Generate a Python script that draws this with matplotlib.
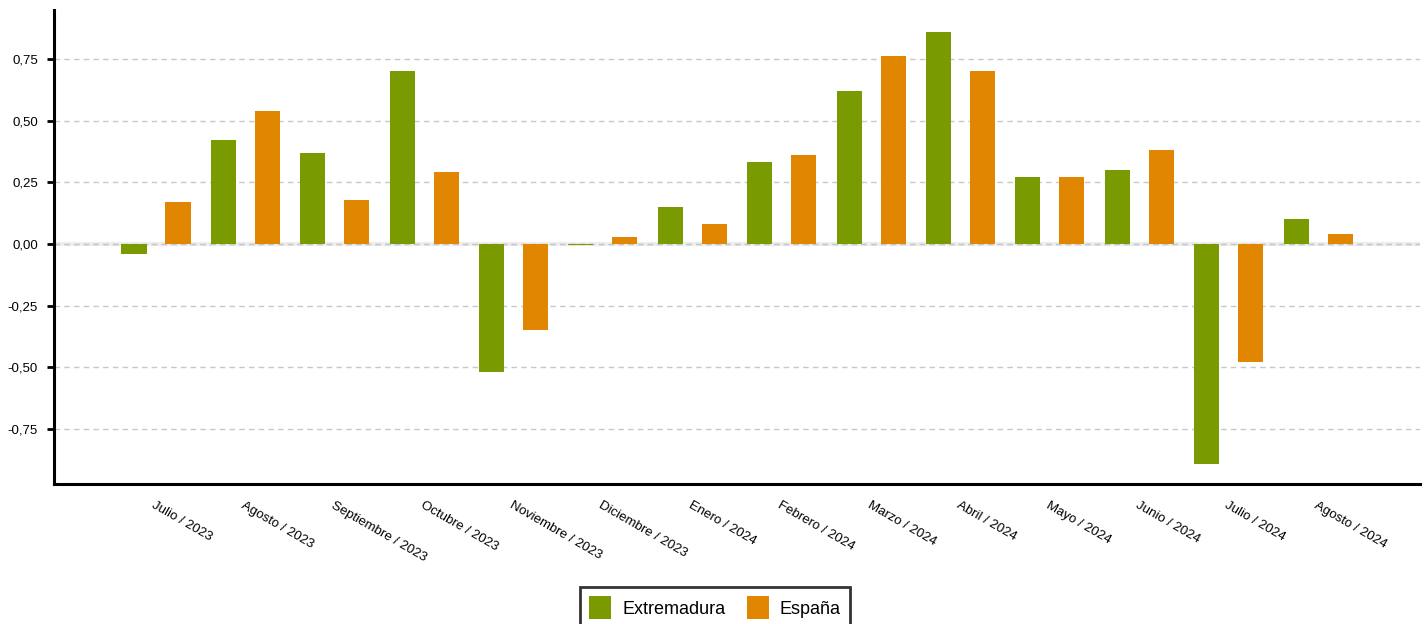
import matplotlib
matplotlib.use("Agg")
import matplotlib.pyplot as plt
import numpy as np

plt.rcParams['font.family'] = ['Liberation Sans', 'DejaVu Sans']

months = ["Julio / 2023", "Agosto / 2023", "Septiembre / 2023", "Octubre / 2023",
          "Noviembre / 2023", "Diciembre / 2023", "Enero / 2024", "Febrero / 2024",
          "Marzo / 2024", "Abril / 2024", "Mayo / 2024", "Junio / 2024",
          "Julio / 2024", "Agosto / 2024"]
extremadura = [-0.04, 0.42, 0.37, 0.70, -0.52, -0.003, 0.15, 0.33, 0.62, 0.86, 0.27, 0.30, -0.89, 0.10]
espana = [0.17, 0.54, 0.18, 0.29, -0.35, 0.03, 0.08, 0.36, 0.76, 0.70, 0.27, 0.38, -0.48, 0.04]
yticks = [-0.75, -0.5, -0.25, 0.0, 0.25, 0.5, 0.75]

green = "#7a9a01"
orange = "#e08600"

fig = plt.figure(figsize=(14.27, 6.24), dpi=100)
ax = fig.add_axes([54/1427, 140/624, (1420-54)/1427, (484-10)/624])

x = np.arange(len(months))
off = 0.246
w = 0.28
ax.bar(x - off, extremadura, width=w, color=green, label="Extremadura", zorder=3)
ax.bar(x + off, espana, width=w, color=orange, label="España", zorder=3)

ax.set_xlim(-1.141, 14.14)
ax.set_ylim(-0.973, 0.948)

ax.set_yticks(yticks)
ax.set_yticklabels([f"{v:.2f}".replace(".", ",") for v in yticks], fontsize=9.5)
ax.yaxis.grid(True, color="#c8c8c8", linestyle=(0, (4, 3)), linewidth=1, zorder=0)
ax.axhline(0, color="#eeeeee", linewidth=3, zorder=1)
ax.axhline(0, color="#c8c8c8", linestyle=(0, (4, 3)), linewidth=1, zorder=1)

ax.set_xticks(x)
ax.set_xticklabels(months, rotation=-30, ha="left", va="top", rotation_mode="anchor", fontsize=9.5)
ax.tick_params(axis="x", length=0, pad=11)
ax.tick_params(axis="y", length=5, width=2, direction="out", pad=6.5)

for s in ["top", "right"]:
    ax.spines[s].set_visible(False)
for s in ["left", "bottom"]:
    ax.spines[s].set_linewidth(2.2)
    ax.spines[s].set_color("black")

leg = fig.legend(loc="upper center", bbox_to_anchor=(0.5012, 1 - 587/624), ncol=2,
                 fontsize=13, frameon=True, fancybox=False, edgecolor="black",
                 handlelength=1.22, handleheight=1.6, handletextpad=0.6, columnspacing=1.2,
                 borderpad=0.5, borderaxespad=0)
leg.get_frame().set_linewidth(2)

fig.savefig("out.png", dpi=100)
